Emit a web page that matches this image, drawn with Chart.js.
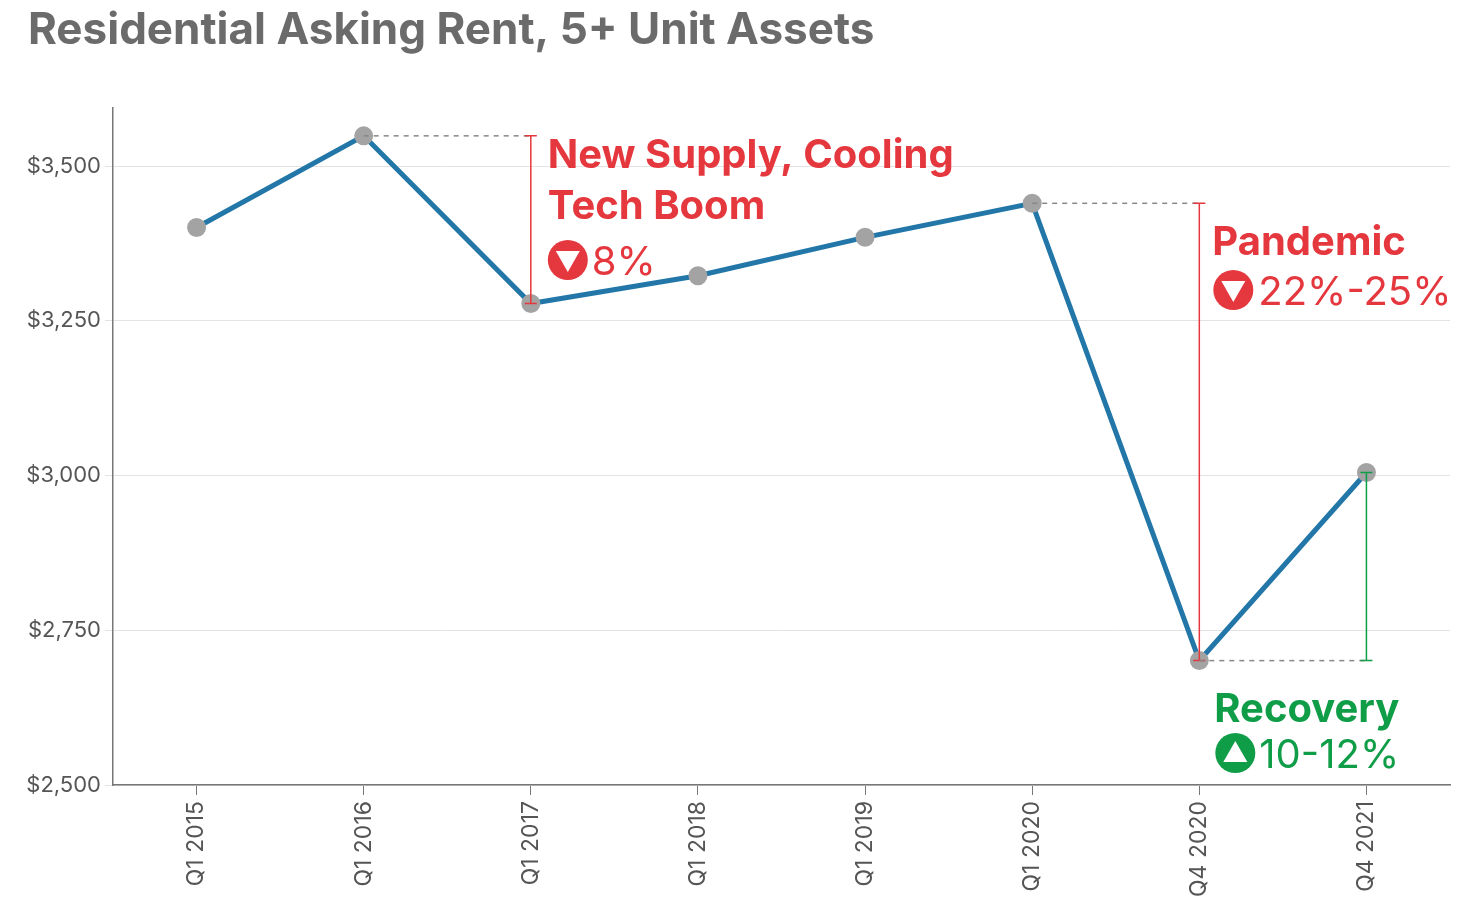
<!DOCTYPE html>
<html><head><meta charset="utf-8">
<script src="https://cdn.jsdelivr.net/npm/chart.js@4"></script>
<style>html,body{margin:0;padding:0;background:#fff;overflow:hidden}</style>
</head><body><canvas id="c" width="1462" height="915"></canvas>
<script>
const categories = ["Q1 2015","Q1 2016","Q1 2017","Q1 2018","Q1 2019","Q1 2020","Q4 2020","Q4 2021"];
const rents = [3401,3549,3278,3323,3385,3440,2701,3005];
const yTicks = [2500,2750,3000,3250,3500];
const title = "Residential Asking Rent, 5+ Unit Assets";
const notes = {
  supply: {lines:["New Supply, Cooling","Tech Boom"], pct:"8%", from:1, to:2},
  pandemic: {lines:["Pandemic"], pct:"22%-25%", from:5, to:6},
  recovery: {lines:["Recovery"], pct:"10-12%", from:6, to:7}
};
const RED="#e5383e", GREEN="#0f9d48", FONT="Inter, 'Liberation Sans', sans-serif";

const annot = {
  id:"annot",
  afterDatasetsDraw(chart){
    const ctx=chart.ctx, xs=chart.scales.x, ys=chart.scales.y;
    const X=i=>xs.getPixelForValue(i), Y=v=>ys.getPixelForValue(v);
    ctx.save();
    ctx.fillStyle="#6b6b6b"; ctx.font="bold 44px "+FONT; ctx.textBaseline="alphabetic"; ctx.textAlign="left";
    ctx.fillText(title,28,44);
    function dashed(x1,x2,y){ctx.save();ctx.strokeStyle="#888";ctx.lineWidth=1.5;ctx.setLineDash([5,5]);ctx.beginPath();ctx.moveTo(x1,y);ctx.lineTo(x2,y);ctx.stroke();ctx.restore();}
    function vline(x,y1,y2,col){ctx.save();ctx.strokeStyle=col;ctx.lineWidth=1.5;ctx.beginPath();ctx.moveTo(x,y1);ctx.lineTo(x,y2);ctx.moveTo(x-6,y1);ctx.lineTo(x+6,y1);ctx.moveTo(x-6,y2);ctx.lineTo(x+6,y2);ctx.stroke();ctx.restore();}
    function icon(x,y,col,up){ctx.save();ctx.fillStyle=col;ctx.beginPath();ctx.arc(x,y,20,0,Math.PI*2);ctx.fill();ctx.fillStyle="#fff";ctx.beginPath();
      if(up){ctx.moveTo(x,y-12);ctx.lineTo(x+12,y+9);ctx.lineTo(x-12,y+9);}else{ctx.moveTo(x-12,y-9);ctx.lineTo(x+12,y-9);ctx.lineTo(x,y+12);}
      ctx.closePath();ctx.fill();ctx.restore();}
    let n=notes.supply, xa=X(n.from), xb=X(n.to);
    dashed(xa,xb,Y(rents[n.from])); vline(xb,Y(rents[n.from]),Y(rents[n.to]),RED);
    ctx.fillStyle=RED; ctx.font="bold 40px "+FONT;
    ctx.fillText(n.lines[0],xb+17,168); ctx.fillText(n.lines[1],xb+17,219);
    icon(xb+37,260,RED,false); ctx.font="40px "+FONT; ctx.fillText(n.pct,xb+61,275);
    n=notes.pandemic; xa=X(n.from); xb=X(n.to);
    dashed(xa,xb,Y(rents[n.from])); vline(xb,Y(rents[n.from]),Y(rents[n.to]),RED);
    ctx.fillStyle=RED; ctx.font="bold 40px "+FONT; ctx.fillText(n.lines[0],xb+13,255);
    icon(xb+34,290,RED,false); ctx.font="40px "+FONT; ctx.fillText(n.pct,xb+59,305);
    n=notes.recovery; xa=X(n.from); xb=X(n.to);
    dashed(xa,xb,Y(rents[n.from])); vline(xb,Y(rents[n.to]),Y(rents[n.from]),GREEN);
    ctx.fillStyle=GREEN; ctx.font="bold 40px "+FONT; ctx.fillText(n.lines[0],xa+15,722);
    icon(xa+36,753,GREEN,true); ctx.font="40px "+FONT; ctx.fillText(n.pct,xa+60,768);
    ctx.restore();
  }
};

new Chart(document.getElementById("c"),{
  type:"line",
  data:{labels:categories,datasets:[{data:rents,borderColor:"#2277a8",borderWidth:5,pointBackgroundColor:"#a3a3a3",pointBorderColor:"#a3a3a3",pointRadius:7,tension:0}]},
  options:{responsive:false,animation:false,devicePixelRatio:1,
    layout:{padding:{top:108,right:12,bottom:0,left:0}},
    plugins:{legend:{display:false},tooltip:{enabled:false}},
    scales:{
      x:{offset:true,grid:{drawOnChartArea:false,drawTicks:true,tickLength:10,color:"#777"},border:{color:"#777",width:1.5},
        ticks:{color:"#555",font:{family:FONT,size:23},maxRotation:90,minRotation:90,padding:6},
        afterFit(s){s.height=130;}},
      y:{min:2500,max:3594,grid:{color:"#e3e3e3",drawTicks:true,tickLength:8},border:{color:"#777",width:1.5},
        afterBuildTicks(s){s.ticks=yTicks.map(v=>({value:v}));},
        ticks:{color:"#555",font:{family:FONT,size:22},padding:4,callback:v=>"$"+v.toLocaleString("en-US")},
        afterFit(s){s.width=113;}}
    }},
  plugins:[annot]
});
</script>
</body></html>
